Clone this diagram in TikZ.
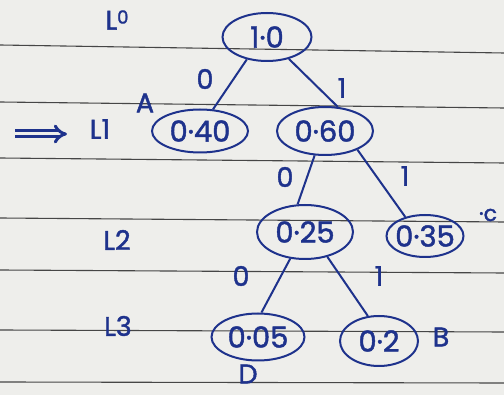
\documentclass[tikz,border=0pt]{standalone}
\usepackage{fontspec}
\setmainfont{Poppins}
\newfontfamily\inkfont{Poppins}[FakeBold=1.5]
\usetikzlibrary{shapes.geometric,arrows.meta}
\definecolor{ink}{RGB}{30,50,140}
\definecolor{paper}{RGB}{238,238,235}
\definecolor{rulec}{RGB}{70,70,70}
\begin{document}
\begin{tikzpicture}[x=1pt,y=-1pt,
  val/.style={ellipse,draw=ink,line width=2pt,inner xsep=-5pt,inner ysep=-3pt,text=ink,font=\inkfont\fontsize{29}{29}\selectfont},
  lbl/.style={text=ink,font=\inkfont\fontsize{27}{27}\selectfont,inner sep=0pt},
  edge/.style={draw=ink,line width=2pt},
  ruled/.style={draw=rulec,line width=1.1pt}]
\fill[paper] (0,0) rectangle (504,395);
\useasboundingbox (0,0) rectangle (504,395);
% ruled paper
\draw[ruled] (0,45) -- (504,53);
\draw[ruled] (0,102) -- (504,108);
\draw[ruled] (0,158) -- (504,163);
\draw[ruled] (0,218) -- (504,222);
\draw[ruled] (0,270) -- (504,273);
\draw[ruled] (0,330) -- (504,332);
\draw[ruled] (0,382) -- (504,383);
% nodes
\node[val,minimum width=89,minimum height=48] (n10) at (267,37) {1·0};
\node[val,minimum width=96,minimum height=43] (n040) at (200,131) {0·40};
\node[val,minimum width=96,minimum height=48] (n060) at (325,131) {0·60};
\node[val,minimum width=96,minimum height=54] (n025) at (305,232) {0·25};
\node[val,minimum width=77,minimum height=42] (n035) at (425,236) {0·35};
\node[val,minimum width=93,minimum height=47] (n005) at (258,337) {0·05};
\node[val,minimum width=78,minimum height=50] (n02) at (379,341) {0·2};
% edges
\draw[edge] (n10.228) -- (n040.59);
\draw[edge] (n10.315) -- (n060.62);
\draw[edge] (n060.247) -- (n025.105);
\draw[edge] (n060.330) -- (n035.136);
\draw[edge] (n025.241) -- (n005.82);
\draw[edge] (n025.312) -- (n02.114);
% edge labels
\node[lbl] (e1) at (205,79) {0};
\node[lbl] (e2) at (342,88) {1};
\node[lbl] (e3) at (285,177) {0};
\node[lbl] (e4) at (405,176) {1};
\node[lbl] (e5) at (241,276) {0};
\node[lbl] (e6) at (379,276) {1};
% level labels
\node[lbl] (l0) at (117,20) {L\raisebox{6pt}{\fontsize{18}{18}\selectfont 0}};
\node[lbl] (l1) at (100,129) {L1};
\node[lbl] (l2) at (117,240) {L2};
\node[lbl] (l3) at (118,326) {L3};
% letters
\node[lbl] (la) at (145,103) {A};
\node[lbl] (lb) at (441,337) {B};
\node[lbl,font=\inkfont\fontsize{22}{22}\selectfont] (lc) at (488,215) {·c};
\node[lbl] (ld) at (248,374) {D};
% arrow
\coordinate (a1) at (15,134);
\coordinate (a2) at (67,134);
\draw[draw=ink,line width=3pt,double=paper,double distance=3pt,-{Implies}] (a1) -- (a2);
\end{tikzpicture}
\end{document}
